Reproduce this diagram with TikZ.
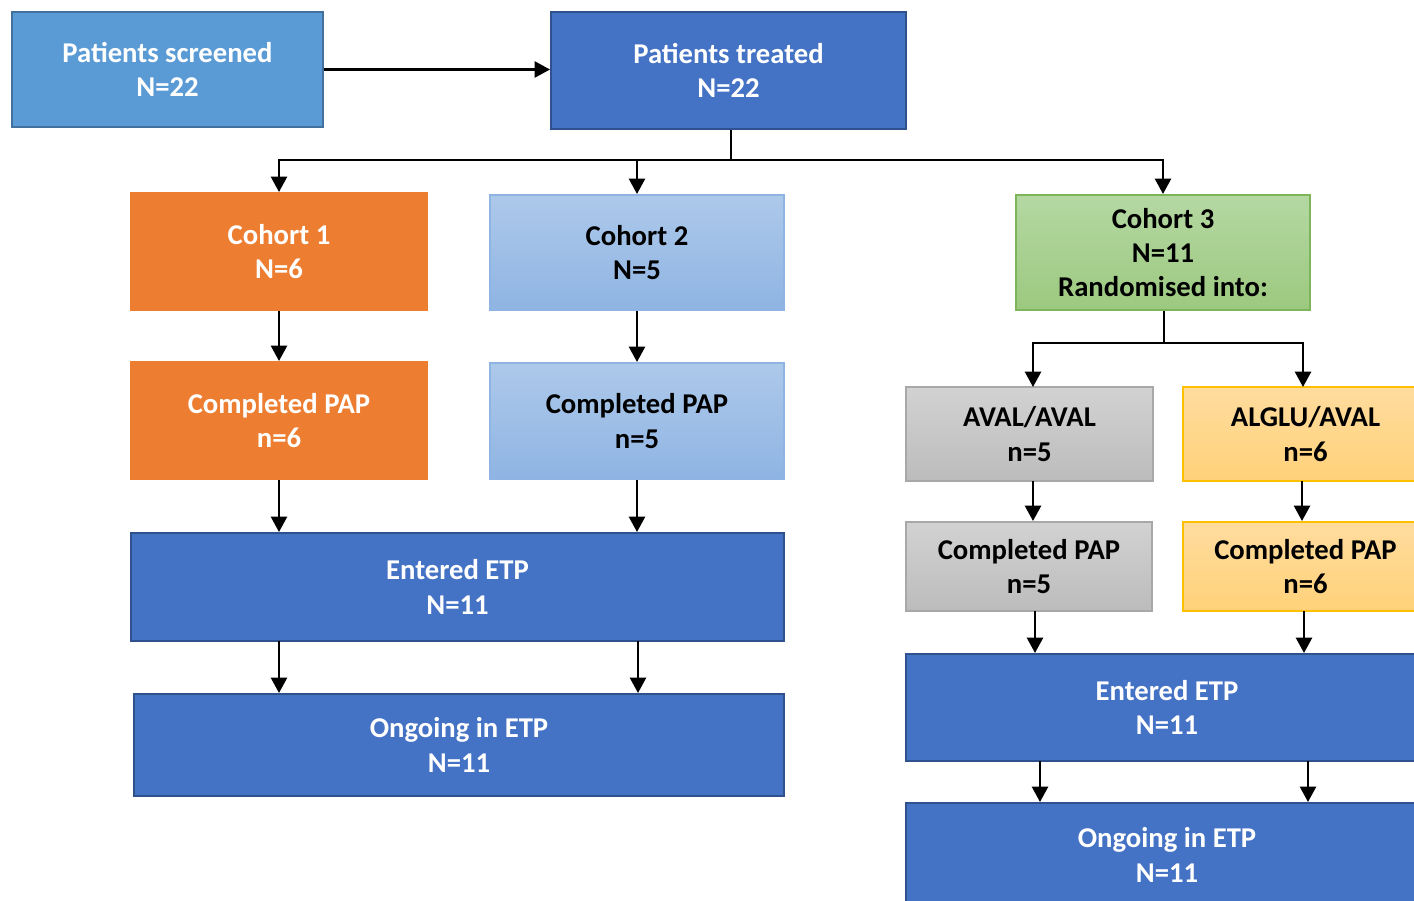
\documentclass[tikz,border=0pt]{standalone}
\usepackage{fontspec}
\setmainfont{Carlito}
\usetikzlibrary{arrows.meta}
\definecolor{bluemid}{HTML}{5B9BD5}
\definecolor{bluemidb}{HTML}{41719C}
\definecolor{bluedark}{HTML}{4472C4}
\definecolor{bluedarkb}{HTML}{2F528F}
\definecolor{orng}{HTML}{ED7D31}
\definecolor{ltbluet}{HTML}{ADC9EA}
\definecolor{ltblueb}{HTML}{8FB4E3}
\definecolor{ltblued}{HTML}{8EB4E3}
\definecolor{greent}{HTML}{B5D8A3}
\definecolor{greenb}{HTML}{9CC97F}
\definecolor{greend}{HTML}{7DB55A}
\definecolor{greyt}{HTML}{D2D2D2}
\definecolor{greyb}{HTML}{BCBCBC}
\definecolor{greyd}{HTML}{A8A8A8}
\definecolor{goldt}{HTML}{FFDC9E}
\definecolor{goldb}{HTML}{FFD179}
\definecolor{goldd}{HTML}{FFC000}
\tikzset{
  box/.style={rectangle, inner sep=0pt, align=center, line width=1.5pt,
    font=\fontsize{21.5}{25.8}\selectfont\bfseries},
  darkbox/.style={box, fill=bluedark, draw=bluedarkb, text=white},
  screenbox/.style={box, fill=bluemid, draw=bluemidb, text=white},
  orangebox/.style={box, fill=orng, draw=orng, text=white},
  ltbluebox/.style={box, top color=ltbluet, bottom color=ltblueb, draw=ltblued, text=black},
  greenbox/.style={box, top color=greent, bottom color=greenb, draw=greend, text=black},
  greybox/.style={box, top color=greyt, bottom color=greyb, draw=greyd, text=black},
  goldbox/.style={box, top color=goldt, bottom color=goldb, draw=goldd, text=black},
  arr/.style={line width=1.8pt, -{Triangle[width=12pt,length=11.5pt]}},
  ln/.style={line width=1.8pt}
}
\newcommand{\bx}[6]{% style, name, x1, y1, x2, y2, then text
  \node[#1, minimum width={(#5-#3)*0.75pt}, minimum height={(#6-#4)*0.75pt}] (#2) at ({(#3+#5)/2},{(#4+#6)/2})}
\begin{document}
\begin{tikzpicture}[x=0.75pt, y=-0.75pt]
\useasboundingbox (0,0) rectangle (1414,900);
\clip (0,0) rectangle (1414,900);
\fill[white] (0,0) rectangle (1414,900);

\bx{screenbox}{scr}{12}{12}{323}{127} {Patients screened\\N=22};
\bx{darkbox}{trt}{551}{12}{906}{129} {Patients treated\\N=22};

\bx{orangebox}{c1}{131}{193}{427}{310} {Cohort 1\\N=6};
\bx{ltbluebox}{c2}{490}{195}{784}{310} {Cohort 2\\N=5};
\bx{greenbox}{c3}{1016}{195}{1310}{310} {Cohort 3\\N=11\\Randomised into:};

\bx{orangebox}{p1}{131}{362}{427}{479} {Completed PAP\\n=6};
\bx{ltbluebox}{p2}{490}{363}{784}{479} {Completed PAP\\n=5};

\bx{darkbox}{eL}{131}{533}{784}{641} {Entered ETP\\N=11};
\bx{darkbox}{oL}{134}{694}{784}{796} {Ongoing in ETP\\N=11};

\bx{greybox}{av}{906}{387}{1153}{481} {AVAL/AVAL\\n=5};
\bx{goldbox}{al}{1183}{387}{1428}{481} {ALGLU/AVAL\\n=6};
\bx{greybox}{pav}{906}{522}{1152}{611} {Completed PAP\\n=5};
\bx{goldbox}{pal}{1183}{522}{1428}{611} {Completed PAP\\n=6};
\bx{darkbox}{eR}{906}{654}{1428}{761} {Entered ETP\\N=11};
\bx{darkbox}{oR}{906}{803}{1428}{907} {Ongoing in ETP\\N=11};

% connectors
\draw[arr] (scr.east) -- (scr.east -| trt.west);
\coordinate (tb) at (731,160);
\draw[ln] (trt.south -| tb) -- (tb);
\draw[arr] (tb) -| (c1.north);
\draw[arr] (tb) -| (c2.north);
\draw[arr] (tb) -| (c3.north);

\draw[arr] (c1.south) -- (p1.north);
\draw[arr] (c2.south) -- (p2.north);
\draw[arr] (p1.south) -- (p1.south |- eL.north);
\draw[arr] (p2.south) -- (p2.south |- eL.north);
\coordinate (e1) at (279,641);
\coordinate (e2) at (638,641);
\draw[arr] (e1) -- (e1 |- oL.north);
\draw[arr] (e2) -- (e2 |- oL.north);

\coordinate (cb) at (1164,343);
\coordinate (ava) at (1033,387);
\coordinate (ala) at (1303,387);
\draw[ln] (cb |- c3.south) -- (cb);
\draw[arr] (cb) -| (ava);
\draw[arr] (cb) -| (ala);
\coordinate (ava2) at (1033,481);
\coordinate (ala2) at (1302,481);
\draw[arr] (ava2) -- (ava2 |- pav.north);
\draw[arr] (ala2) -- (ala2 |- pal.north);
\coordinate (pav2) at (1035,611);
\coordinate (pal2) at (1304,611);
\draw[arr] (pav2) -- (pav2 |- eR.north);
\draw[arr] (pal2) -- (pal2 |- eR.north);
\coordinate (er1) at (1040,761);
\coordinate (er2) at (1308,761);
\draw[arr] (er1) -- (er1 |- oR.north);
\draw[arr] (er2) -- (er2 |- oR.north);
\end{tikzpicture}
\end{document}
